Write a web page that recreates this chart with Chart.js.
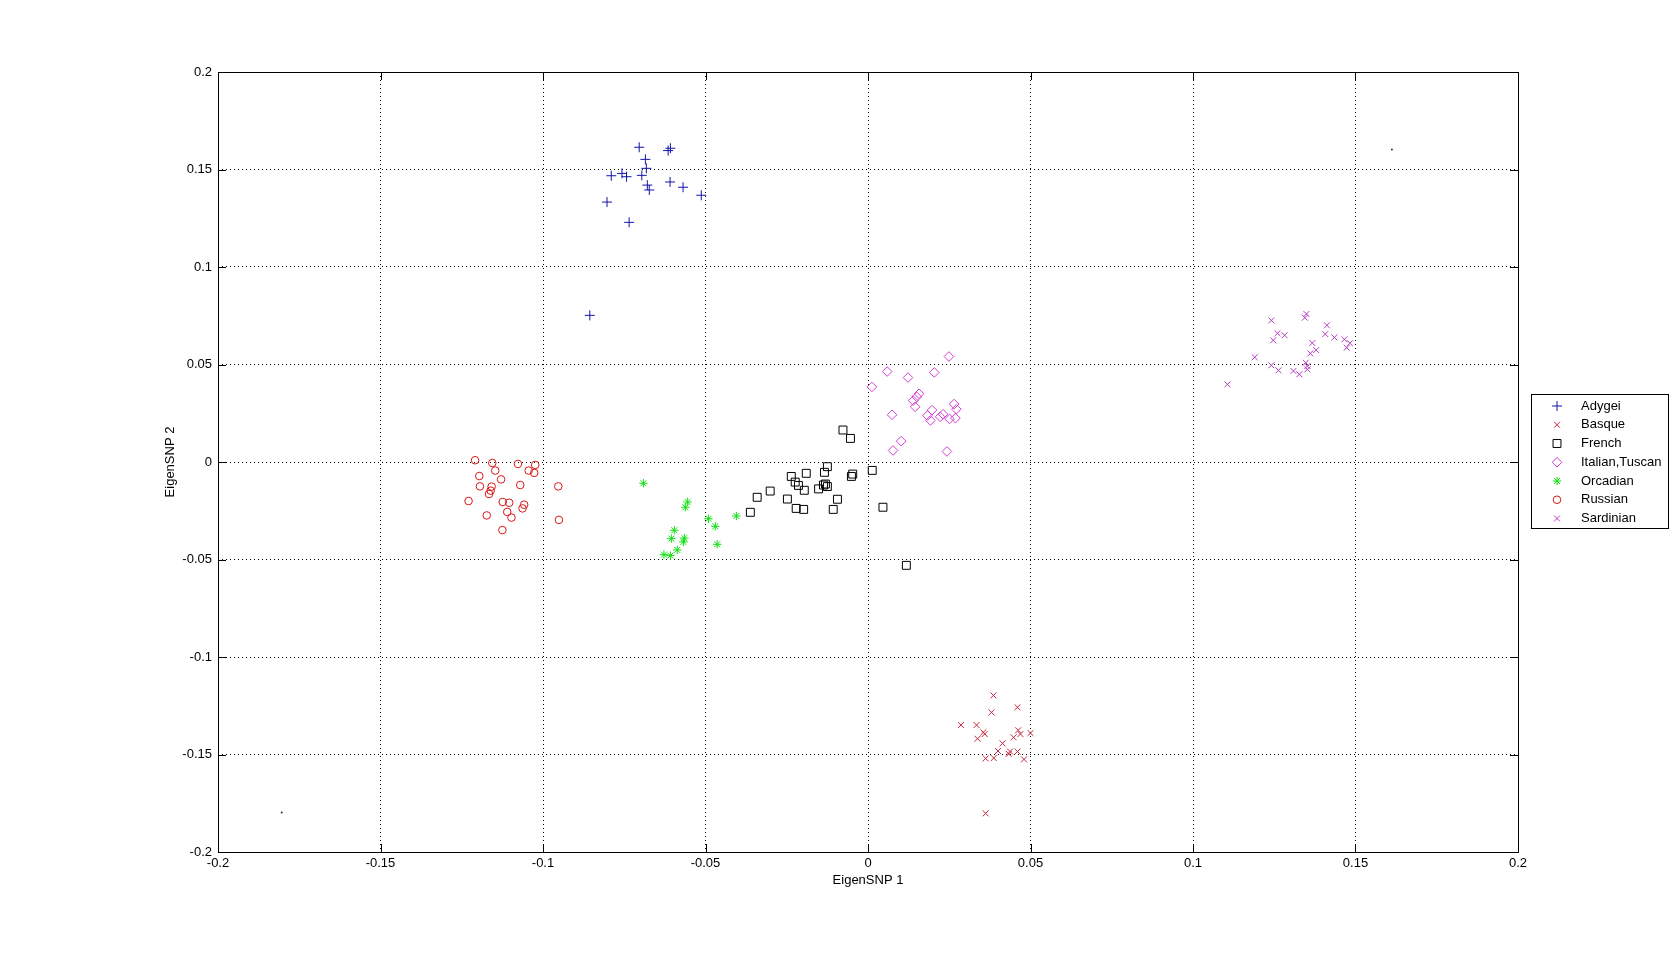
<!DOCTYPE html>
<html>
<head>
<meta charset="utf-8">
<title>EigenSNP</title>
<script src="https://cdn.jsdelivr.net/npm/chart.js@4/dist/chart.umd.min.js"></script>
<style>
  html, body { margin: 0; padding: 0; background: #fff; }
  #chart { display: block; }
</style>
</head>
<body>
<canvas id="chart" width="1679" height="957"></canvas>
<script>
// values, [EigenSNP 1, EigenSNP 2]
const adygei = [
  [-0.0704, 0.1614], [-0.0615, 0.1597], [-0.0608, 0.1609], [-0.0685, 0.1552],
  [-0.0682, 0.1506], [-0.0790, 0.1468], [-0.0757, 0.1480], [-0.0743, 0.1463],
  [-0.0696, 0.1470], [-0.0679, 0.1420], [-0.0673, 0.1395], [-0.0609, 0.1436],
  [-0.0569, 0.1409], [-0.0513, 0.1368], [-0.0803, 0.1333], [-0.0735, 0.1229],
  [-0.0856, 0.0752]
];
const basque = [
  [0.0386, -0.1197], [0.0380, -0.1284], [0.0460, -0.1258], [0.0286, -0.1349],
  [0.0334, -0.1349], [0.0355, -0.1386], [0.0359, -0.1395], [0.0337, -0.1419],
  [0.0462, -0.1376], [0.0469, -0.1395], [0.0500, -0.1390], [0.0448, -0.1412],
  [0.0414, -0.1443], [0.0400, -0.1482], [0.0437, -0.1485], [0.0433, -0.1497],
  [0.0460, -0.1485], [0.0387, -0.1518], [0.0362, -0.1520], [0.0480, -0.1525],
  [0.0362, -0.1802]
];
const french = [
  [-0.0077, 0.0164], [-0.0054, 0.0121], [-0.0125, -0.0024], [-0.0134, -0.0053],
  [-0.0190, -0.0058], [-0.0236, -0.0074], [-0.0224, -0.0103], [-0.0214, -0.0120],
  [-0.0196, -0.0145], [-0.0152, -0.0138], [-0.0137, -0.0118], [-0.0131, -0.0113],
  [-0.0125, -0.0126], [-0.0047, -0.0062], [-0.0051, -0.0074], [0.0013, -0.0043],
  [-0.0301, -0.0149], [-0.0341, -0.0181], [-0.0248, -0.0190], [-0.0094, -0.0191],
  [-0.0221, -0.0238], [-0.0198, -0.0243], [-0.0107, -0.0243], [-0.0362, -0.0258],
  [0.0046, -0.0232], [0.0118, -0.0530]
];
const italianTuscan = [
  [0.0249, 0.0541], [0.0059, 0.0464], [0.0123, 0.0433], [0.0204, 0.0459],
  [0.0012, 0.0385], [0.0157, 0.0350], [0.0150, 0.0334], [0.0139, 0.0315],
  [0.0145, 0.0283], [0.0074, 0.0242], [0.0197, 0.0266], [0.0183, 0.0238],
  [0.0192, 0.0213], [0.0231, 0.0245], [0.0222, 0.0232], [0.0251, 0.0221],
  [0.0265, 0.0297], [0.0272, 0.0271], [0.0269, 0.0225], [0.0102, 0.0107],
  [0.0077, 0.0059], [0.0243, 0.0054]
];
const orcadian = [
  [-0.0691, -0.0109], [-0.0555, -0.0205], [-0.0562, -0.0232], [-0.0491, -0.0291],
  [-0.0405, -0.0277], [-0.0470, -0.0330], [-0.0464, -0.0422], [-0.0596, -0.0350],
  [-0.0605, -0.0393], [-0.0565, -0.0390], [-0.0568, -0.0410], [-0.0587, -0.0451],
  [-0.0628, -0.0475], [-0.0608, -0.0480]
];
const russian = [
  [-0.1209, 0.0009], [-0.1156, -0.0005], [-0.1147, -0.0044], [-0.1196, -0.0072],
  [-0.1077, -0.0010], [-0.1024, -0.0015], [-0.1044, -0.0044], [-0.1027, -0.0056],
  [-0.1129, -0.0089], [-0.1194, -0.0125], [-0.1158, -0.0126], [-0.1161, -0.0147],
  [-0.1166, -0.0164], [-0.1070, -0.0118], [-0.0953, -0.0125], [-0.1229, -0.0200],
  [-0.1124, -0.0205], [-0.1104, -0.0209], [-0.1058, -0.0219], [-0.1063, -0.0238],
  [-0.1110, -0.0256], [-0.1097, -0.0285], [-0.1173, -0.0274], [-0.0951, -0.0297],
  [-0.1125, -0.0349]
];
const sardinian = [
  [0.1349, 0.0759], [0.1344, 0.0740], [0.1241, 0.0726], [0.1412, 0.0701],
  [0.1260, 0.0660], [0.1282, 0.0650], [0.1247, 0.0624], [0.1407, 0.0656],
  [0.1435, 0.0639], [0.1466, 0.0629], [0.1483, 0.0609], [0.1473, 0.0586],
  [0.1367, 0.0610], [0.1379, 0.0574], [0.1361, 0.0557], [0.1190, 0.0537],
  [0.1241, 0.0496], [0.1347, 0.0509], [0.1352, 0.0492], [0.1352, 0.0475],
  [0.1263, 0.0470], [0.1309, 0.0467], [0.1327, 0.0450], [0.1106, 0.0398]
];
const strayPoints = [[-0.1804, -0.1798], [0.1612, 0.1602]];

const groupNames = ['Adygei', 'Basque', 'French', 'Italian,Tuscan', 'Orcadian', 'Russian', 'Sardinian'];
const xTickValues = [-0.2, -0.15, -0.1, -0.05, 0, 0.05, 0.1, 0.15, 0.2];
const xTickLabels = ['-0.2', '-0.15', '-0.1', '-0.05', '0', '0.05', '0.1', '0.15', '0.2'];
const yTickValues = [-0.2, -0.15, -0.1, -0.05, 0, 0.05, 0.1, 0.15, 0.2];
const yTickLabels = ['-0.2', '-0.15', '-0.1', '-0.05', '0', '0.05', '0.1', '0.15', '0.2'];

const FONT = "'Liberation Sans', Arial, sans-serif";
const toXY = arr => arr.map(p => ({ x: p[0], y: p[1] }));

const groups = [adygei, basque, french, italianTuscan, orcadian, russian, sardinian];
const styles = [
  { color: '#1414a8', shape: 'cross', r: 5 },
  { color: '#c8283c', shape: 'crossRot', r: 4.2 },
  { color: '#000000', shape: 'rect', r: 5.6 },
  { color: '#d23cd2', shape: 'rectRot', r: 4.8 },
  { color: '#10e010', shape: 'star', r: 4.2 },
  { color: '#d81818', shape: 'circle', r: 3.8 },
  { color: '#b43cc3', shape: 'crossRot', r: 4.2 }
];

const datasets = groups.map((g, i) => ({
  label: groupNames[i],
  data: toXY(g),
  pointStyle: styles[i].shape,
  pointRadius: styles[i].r,
  pointHoverRadius: styles[i].r,
  pointBorderWidth: 1,
  pointBorderColor: styles[i].color,
  pointBackgroundColor: 'rgba(0,0,0,0)',
  showLine: false
}));
datasets.push({
  label: '',
  data: toXY(strayPoints),
  pointStyle: 'circle',
  pointRadius: 1,
  pointBorderWidth: 0,
  pointBackgroundColor: '#333',
  showLine: false
});

// axes frame, inward tick marks and the boxed legend
const framePlugin = {
  id: 'frame',
  afterDraw(chart) {
    const { ctx, chartArea: a, scales } = chart;
    ctx.save();
    ctx.strokeStyle = '#000';
    ctx.lineWidth = 1;
    ctx.strokeRect(Math.round(a.left) + 0.5, Math.round(a.top) + 0.5,
      Math.round(a.right - a.left), Math.round(a.bottom - a.top));
    const tl = 8;
    ctx.beginPath();
    xTickValues.forEach(v => {
      const px = Math.round(scales.x.getPixelForValue(v)) + 0.5;
      ctx.moveTo(px, a.bottom); ctx.lineTo(px, a.bottom - tl);
      ctx.moveTo(px, a.top); ctx.lineTo(px, a.top + tl);
    });
    yTickValues.forEach(v => {
      const py = Math.round(scales.y.getPixelForValue(v)) + 0.5;
      ctx.moveTo(a.left, py); ctx.lineTo(a.left + tl, py);
      ctx.moveTo(a.right, py); ctx.lineTo(a.right - tl, py);
    });
    ctx.stroke();

    // legend
    const lx = 1531.5, ly = 394.5, lw = 137, lh = 134;
    ctx.fillStyle = '#fff';
    ctx.fillRect(lx, ly, lw, lh);
    ctx.strokeRect(lx, ly, lw, lh);
    ctx.font = '13px ' + FONT;
    ctx.textBaseline = 'middle';
    ctx.textAlign = 'left';
    groupNames.forEach((name, i) => {
      const y = 406 + i * 18.75;
      ctx.strokeStyle = styles[i].color;
      ctx.fillStyle = 'rgba(0,0,0,0)';
      ctx.lineWidth = 1;
      Chart.helpers.drawPoint(ctx, {
        pointStyle: styles[i].shape, radius: styles[i].r, rotation: 0, borderWidth: 1
      }, 1557, y);
      ctx.fillStyle = '#000';
      ctx.fillText(name, 1581, y);
    });
    ctx.restore();
  }
};

const axisBase = (values, labels, title, pos) => ({
  type: 'linear',
  min: -0.2,
  max: 0.2,
  afterBuildTicks: s => { s.ticks = values.map(v => ({ value: v })); },
  ticks: {
    color: '#000',
    font: { family: FONT, size: 13 },
    padding: pos === 'x' ? 4 : 6,
    maxRotation: 0,
    autoSkip: false,
    callback: (v, i) => labels[i]
  },
  grid: { color: '#000', lineWidth: 1, drawTicks: false },
  border: { display: false, dash: [1, 3] },
  title: {
    display: true,
    text: title,
    color: '#000',
    font: { family: FONT, size: 13 },
    padding: pos === 'x' ? { top: 0, bottom: 69 } : { top: 163, bottom: 0 }
  }
});

const xAxis = axisBase(xTickValues, xTickLabels, 'EigenSNP 1', 'x');
xAxis.position = 'bottom';
xAxis.afterFit = s => { s.height = 105; };
const yAxis = axisBase(yTickValues, yTickLabels, 'EigenSNP 2', 'y');
yAxis.position = 'left';
yAxis.afterFit = s => { s.width = 218; };

new Chart(document.getElementById('chart').getContext('2d'), {
  type: 'scatter',
  data: { datasets: datasets },
  options: {
    responsive: false,
    animation: false,
    layout: { padding: { top: 72, right: 161, bottom: 0, left: 0 } },
    plugins: {
      legend: { display: false },
      tooltip: { enabled: false }
    },
    scales: { x: xAxis, y: yAxis }
  },
  plugins: [framePlugin]
});
</script>
</body>
</html>
